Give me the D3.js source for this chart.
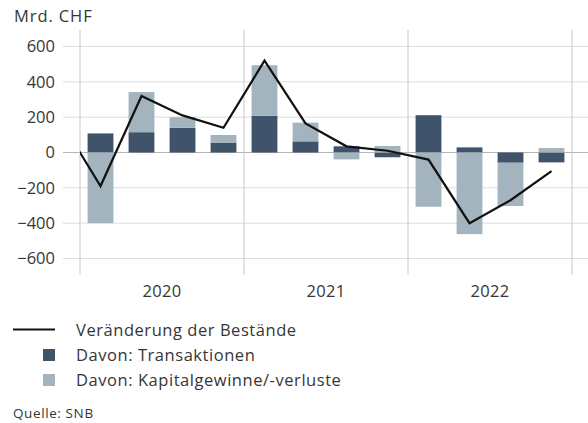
<!DOCTYPE html>
<html>
<head>
<meta charset="utf-8">
<script src="https://cdn.jsdelivr.net/npm/d3@7"></script>
<style>
  body { margin: 0; background: #fff; }
  svg { display: block; font-family: "Open Sans", Roboto, sans-serif; font-weight: 400; }
  text { fill: #363636; }
</style>
</head>
<body>
<script>
// quarters 2020 Q1 .. 2022 Q4
const quarters = ['2020Q1','2020Q2','2020Q3','2020Q4','2021Q1','2021Q2','2021Q3','2021Q4','2022Q1','2022Q2','2022Q3','2022Q4'];
const years = ['2020', '2021', '2022'];
const transaktionen = [108, 115, 140, 56, 208, 63, 35, -27, 211, 29, -58, -56];
const kapital = [-400, 227, 60, 43, 286, 106, -39, 37, -307, -462, -245, 25];
// first value is 2019 Q4 (cut off at the left edge)
const bestand = [190, -190, 320, 210, 140, 520, 165, 35, 10, -40, -400, -270, -105];
const yTicks = [-600, -400, -200, 0, 200, 400, 600];

const colDark = '#3f536b';
const colLight = '#a4b4bf';

const W = 588, H = 423;
const plotLeft = 80, plotRight = 572, plotTop = 30, plotBottom = 275;

const svg = d3.select('body').append('svg')
  .attr('width', W)
  .attr('height', H);

const x = d3.scaleLinear().domain([0, quarters.length]).range([plotLeft, plotRight]);
const y = d3.scaleLinear().domain([-600, 600]).range([258.5, 46.5]);
const step = x(1) - x(0);
const bw = step * 0.63;

// gridlines
svg.append('g')
  .selectAll('line')
  .data(yTicks)
  .enter()
  .append('line')
  .attr('x1', 63).attr('x2', W)
  .attr('y1', d => y(d)).attr('y2', d => y(d))
  .attr('stroke', d => d === 0 ? '#b5b5b5' : '#dddddd')
  .attr('stroke-width', 1);

// year separators
svg.append('g')
  .selectAll('line')
  .data(d3.range(0, years.length + 1))
  .enter()
  .append('line')
  .attr('x1', d => x(d * 4)).attr('x2', d => x(d * 4))
  .attr('y1', plotTop).attr('y2', plotBottom)
  .attr('stroke', '#c8c8c8');

svg.append('g')
  .selectAll('text')
  .data(yTicks)
  .enter()
  .append('text')
  .attr('x', 55)
  .attr('y', d => y(d))
  .attr('dy', '0.36em')
  .attr('text-anchor', 'end')
  .style('font-size', '16.5px')
  .text(d => d < 0 ? '\u2212' + Math.abs(d) : d);

svg.append('g')
  .selectAll('text')
  .data(years)
  .enter()
  .append('text')
  .attr('x', (d, i) => x(i * 4 + 2))
  .attr('y', 297)
  .attr('text-anchor', 'middle')
  .style('font-size', '16.5px')
  .style('letter-spacing', '0.3px')
  .text(d => d);

svg.append('text')
  .attr('x', 14)
  .attr('y', 22)
  .style('font-size', '16.5px')
  .style('letter-spacing', '0.9px')
  .text('Mrd. CHF');

// stacked bars
const rows = quarters.map((q, i) => ({ q: q, trans: transaktionen[i], kap: kapital[i] }));
const stack = d3.stack().keys(['trans', 'kap']).offset(d3.stackOffsetDiverging);
const series = stack(rows);
const colors = { trans: colDark, kap: colLight };

svg.append('g')
  .selectAll('g')
  .data(series)
  .enter()
  .append('g')
  .attr('fill', s => colors[s.key])
  .selectAll('rect')
  .data(s => s)
  .enter()
  .append('rect')
  .attr('x', (d, i) => x(i + 0.5) - bw / 2)
  .attr('y', d => y(d[1]))
  .attr('width', bw)
  .attr('height', d => y(d[0]) - y(d[1]));

// line
svg.append('clipPath').attr('id', 'plot')
  .append('rect')
  .attr('x', plotLeft).attr('y', 0)
  .attr('width', plotRight - plotLeft).attr('height', H);

const line = d3.line()
  .x((d, i) => x(i - 0.5))
  .y(d => y(d));

svg.append('path')
  .datum(bestand)
  .attr('clip-path', 'url(#plot)')
  .attr('fill', 'none')
  .attr('stroke', '#111')
  .attr('stroke-width', 2.2)
  .attr('stroke-linejoin', 'miter')
  .attr('d', line);

// legend
const lg = svg.append('g')
  .style('font-size', '16.5px')
  .style('letter-spacing', '0.55px');
lg.append('line')
  .attr('x1', 13).attr('x2', 55)
  .attr('y1', 329.5).attr('y2', 329.5)
  .attr('stroke', '#111').attr('stroke-width', 2.2);
lg.append('text').attr('x', 76).attr('y', 335.5)
  .text('Veränderung der Bestände');

lg.append('rect').attr('x', 43).attr('y', 349).attr('width', 12).attr('height', 12).attr('fill', colDark);
lg.append('text').attr('x', 76).attr('y', 361)
  .text('Davon: Transaktionen');

lg.append('rect').attr('x', 43).attr('y', 374).attr('width', 12).attr('height', 12).attr('fill', colLight);
lg.append('text').attr('x', 76).attr('y', 386)
  .text('Davon: Kapitalgewinne/-verluste');

svg.append('text')
  .attr('x', 13).attr('y', 418)
  .style('font-size', '13.5px')
  .style('letter-spacing', '0.6px')
  .text('Quelle: SNB');
</script>
</body>
</html>
